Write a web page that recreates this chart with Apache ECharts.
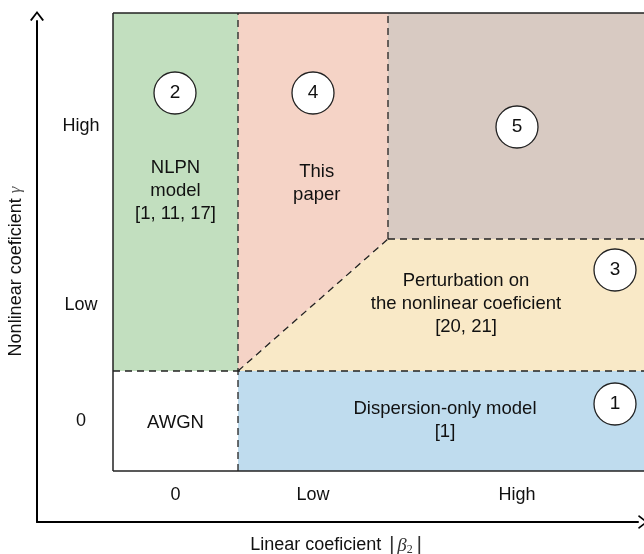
<!DOCTYPE html>
<html>
<head>
<meta charset="utf-8">
<script src="https://cdn.jsdelivr.net/npm/echarts@6/dist/echarts.min.js"></script>
<style>html,body{margin:0;padding:0;background:#fff}#c{width:644px;height:554px}</style>
</head>
<body>
<div id="c"></div>
<script>
// Column / row boundaries (conceptual units along |beta2| and gamma)
const xEdges = [0, 1, 2.2, 4.264];
const yEdges = [0, 1, 2.32, 4.58];
const xTickLabels = ['0', 'Low', 'High'];
const yTickLabels = ['0', 'Low', 'High'];

// Regions as polygons of [xEdgeIndex, yEdgeIndex]
const regionNames = ['AWGN', 'Dispersion-only', 'NLPN', 'This paper', 'Perturbation', 'Region 5'];
const regionPolys = [
  [[0,0],[1,0],[1,1],[0,1]],
  [[1,0],[3,0],[3,1],[1,1]],
  [[0,1],[1,1],[1,3],[0,3]],
  [[1,1],[2,2],[2,3],[1,3]],
  [[1,1],[3,1],[3,2],[2,2]],
  [[2,2],[3,2],[3,3],[2,3]]
];
const regionColors = ['#ffffff', '#bfdcee', '#c2dfbf', '#f5d3c6', '#f9e9c7', '#d8cac2'];

// Boundaries
const dashedSegs = [
  [[1,0],[1,3]], [[2,2],[2,3]], [[0,1],[3,1]], [[2,2],[3,2]], [[1,1],[2,2]]
];
const solidSegs = [
  [[0,0],[0,3]], [[0,3],[3,3]], [[0,0],[3,0]]
];

// Numbered markers
const markerLabels = ['1', '2', '3', '4', '5'];
const markerX = [4.016, 0.496, 4.016, 1.6, 3.232];
const markerY = [0.67, 3.78, 2.01, 3.78, 3.44];

// Region texts
const regionTexts = ['AWGN', 'Dispersion-only model\n[1]', 'NLPN\nmodel\n[1, 11, 17]', 'This\npaper', 'Perturbation on\nthe nonlinear coeficient\n[20, 21]'];
const textX = [0.5, 2.656, 0.5, 1.63, 2.824];
const textY = [0.48, 0.51, 2.8, 2.88, 1.67];

const FONT = 'Liberation Sans, Arial, sans-serif';
const mid = a => a.slice(0, -1).map((v, i) => (v + a[i + 1]) / 2);
const xMid = mid(xEdges), yMid = mid(yEdges);
const pt = (api, p) => api.coord([xEdges[p[0]], yEdges[p[1]]]);

const chevron = 'path://M0,9 L7,0 L14,9 L12.4,9.8 L7,2.6 L1.6,9.8 Z';

const chart = echarts.init(document.getElementById('c'), null, {renderer: 'canvas'});
chart.setOption({
  animation: false,
  grid: [
    {left: 113, top: 13, width: 533, height: 458, outerBoundsMode: 'none', containLabel: false},
    {left: 37, top: 21, width: 601, height: 501, outerBoundsMode: 'none', containLabel: false}
  ],
  xAxis: [
    {type: 'value', gridIndex: 0, min: xEdges[0], max: xEdges[3],
     axisLine: {show: false}, axisTick: {show: false}, splitLine: {show: false},
     axisLabel: {customValues: xMid, margin: 15, fontSize: 18, color: '#111', fontFamily: FONT,
       formatter: v => xTickLabels[xMid.findIndex(m => Math.abs(m - v) < 1e-6)]}},
    {type: 'value', gridIndex: 1, min: 0, max: 1,
     axisLine: {show: true, lineStyle: {color: '#000', width: 2}, symbol: ['none', chevron], symbolSize: [14, 10], symbolOffset: [0, 5]},
     axisTick: {show: false}, axisLabel: {show: false}, splitLine: {show: false},
     name: 'Linear coeficient {bar||}{g|β}{s|2}{bar||}', nameLocation: 'middle', nameGap: 13,
     nameTextStyle: {fontSize: 18, color: '#111', fontFamily: FONT, verticalAlign: 'top',
       rich: {
         bar: {fontSize: 21, fontFamily: 'DejaVu Serif', color: '#333', padding: [0, 2, 0, 2]},
         g: {fontSize: 19, fontFamily: 'Liberation Serif', fontStyle: 'italic', color: '#333'},
         s: {fontSize: 12, fontFamily: 'Liberation Serif', color: '#333', padding: [9, 1, 0, 0]}
       }}}
  ],
  yAxis: [
    {type: 'value', gridIndex: 0, min: yEdges[0], max: yEdges[3],
     axisLine: {show: false}, axisTick: {show: false}, splitLine: {show: false},
     axisLabel: {customValues: yMid, margin: 32, align: 'center', fontSize: 18, color: '#111', fontFamily: FONT,
       formatter: v => yTickLabels[yMid.findIndex(m => Math.abs(m - v) < 1e-6)]}},
    {type: 'value', gridIndex: 1, min: 0, max: 1,
     axisLine: {show: true, lineStyle: {color: '#000', width: 2}, symbol: ['none', chevron], symbolSize: [14, 10], symbolOffset: [0, 5]},
     axisTick: {show: false}, axisLabel: {show: false}, splitLine: {show: false},
     name: 'Nonlinear coeficient {g|γ}', nameLocation: 'middle', nameGap: 12, nameRotate: 90,
     nameTextStyle: {fontSize: 18, color: '#111', fontFamily: FONT,
       rich: {g: {fontSize: 17, fontFamily: 'Liberation Serif', fontStyle: 'italic', color: '#555'}}}}
  ],
  series: [
    {type: 'custom', xAxisIndex: 0, yAxisIndex: 0, silent: true, z: 1,
     data: regionPolys.map((p, i) => ({name: regionNames[i], value: [i]})),
     renderItem: (params, api) => ({
       type: 'polygon',
       shape: {points: regionPolys[params.dataIndex].map(p => pt(api, p))},
       style: {fill: regionColors[params.dataIndex], stroke: null}
     })},
    {type: 'custom', xAxisIndex: 0, yAxisIndex: 0, silent: true, z: 2,
     data: dashedSegs.map((s, i) => [i]),
     renderItem: (params, api) => ({
       type: 'polyline',
       shape: {points: dashedSegs[params.dataIndex].map(p => pt(api, p))},
       style: {stroke: '#222', lineWidth: 1.3, lineDash: [7, 5], fill: null}
     })},
    {type: 'custom', xAxisIndex: 0, yAxisIndex: 0, silent: true, z: 3,
     data: solidSegs.map((s, i) => [i]),
     renderItem: (params, api) => ({
       type: 'polyline',
       shape: {points: solidSegs[params.dataIndex].map(p => pt(api, p))},
       style: {stroke: '#222', lineWidth: 1.5, fill: null}
     })},
    {type: 'custom', xAxisIndex: 0, yAxisIndex: 0, silent: true, z: 4,
     data: regionTexts.map((t, i) => [textX[i], textY[i]]),
     renderItem: (params, api) => {
       const c = api.coord([api.value(0), api.value(1)]);
       return {type: 'text', x: c[0], y: c[1],
         style: {text: regionTexts[params.dataIndex], fontSize: 18.5, lineHeight: 23, fontFamily: FONT,
           fill: '#111', align: 'center', verticalAlign: 'middle'}};
     }},
    {type: 'custom', xAxisIndex: 0, yAxisIndex: 0, silent: true, z: 5,
     data: markerLabels.map((t, i) => [markerX[i], markerY[i]]),
     renderItem: (params, api) => {
       const c = api.coord([api.value(0), api.value(1)]);
       return {type: 'group', children: [
         {type: 'circle', shape: {cx: c[0], cy: c[1], r: 21},
          style: {fill: '#fff', stroke: '#222', lineWidth: 1.3}},
         {type: 'text', x: c[0], y: c[1],
          style: {text: markerLabels[params.dataIndex], fontSize: 19, fontFamily: FONT, fill: '#111',
            align: 'center', verticalAlign: 'middle'}}
       ]};
     }}
  ]
});
</script>
</body>
</html>
